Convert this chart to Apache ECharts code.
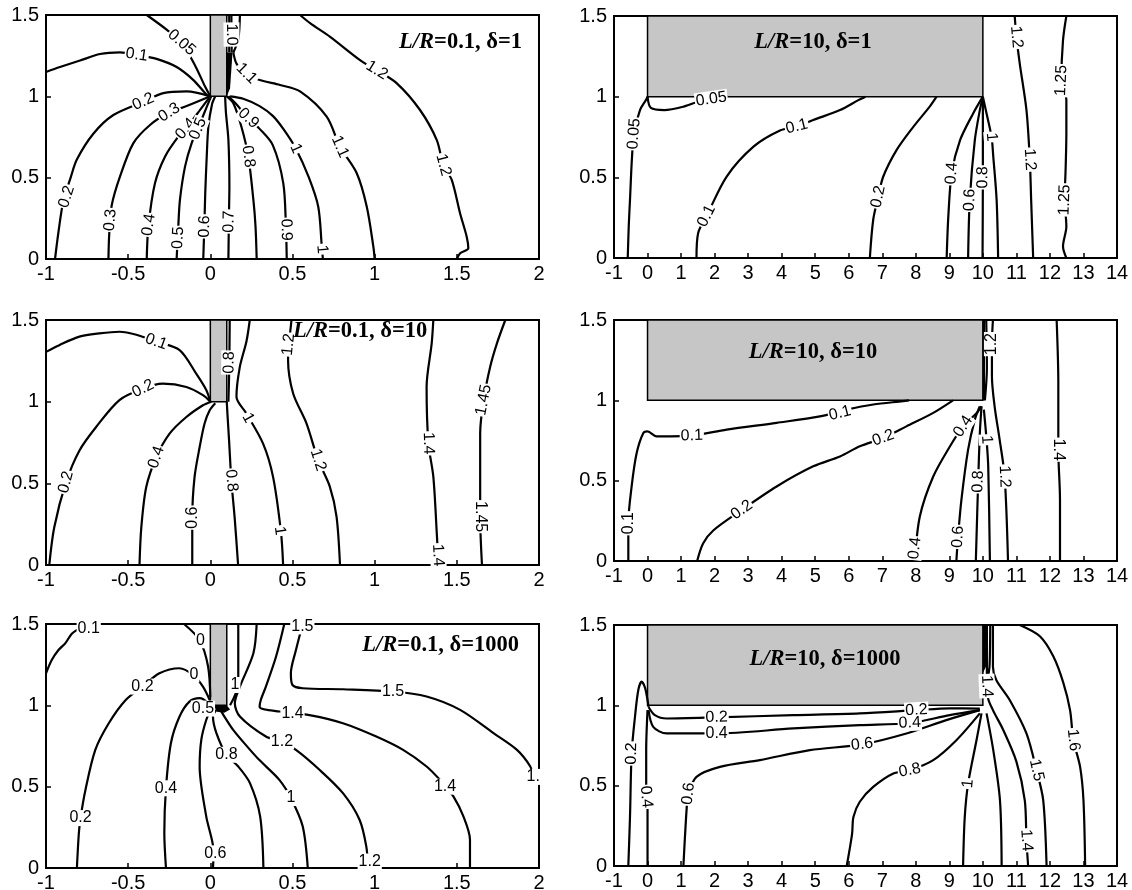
<!DOCTYPE html>
<html><head><meta charset="utf-8">
<script src="https://cdn.jsdelivr.net/npm/echarts/dist/echarts.min.js"></script>
<style>html,body{margin:0;padding:0;background:#fff}#c{width:1132px;height:890px}</style>
</head><body><div id="c"></div>
<script>
// ---------- DATA (data coordinates) ----------
const leftX = {min: -1, max: 2, interval: 0.5};
const rightX = {min: -1, max: 14, interval: 1};
const yRange = {min: 0, max: 1.5, interval: 0.5};
const leftBox = [0, 1, 0.1, 1.5];
const rightBox = [0, 1, 10, 1.5];

// Panel 1: L/R=0.1, delta=1
const tlLines = [
 [[-0.387,1.5],[-0.266,1.41],[-0.175,1.33],[-0.093,1.19],[-0.032,1.06],[0,1]],
 [[-1,1.15],[-0.915,1.18],[-0.793,1.22],[-0.671,1.26],[-0.55,1.27],[-0.448,1.255],[-0.327,1.23],[-0.205,1.18],[-0.103,1.1],[-0.022,1.01],[0,1]],
 [[-0.945,0],[-0.925,0.16],[-0.894,0.36],[-0.85,0.5],[-0.813,0.61],[-0.712,0.77],[-0.59,0.885],[-0.408,0.967],[-0.286,1.02],[-0.144,1.03],[0,1]],
 [[-0.62,0],[-0.615,0.158],[-0.6,0.33],[-0.55,0.506],[-0.469,0.711],[-0.367,0.824],[-0.25,0.9],[-0.144,0.94],[0,1]],
 [[-0.387,0],[-0.377,0.2],[-0.337,0.465],[-0.276,0.629],[-0.195,0.752],[-0.124,0.834],[-0.06,0.92],[0,1]],
 [[-0.205,0],[-0.195,0.2],[-0.185,0.363],[-0.154,0.568],[-0.114,0.711],[-0.063,0.834],[-0.02,0.94],[0.005,1]],
 [[-0.043,0],[-0.035,0.25],[-0.031,0.404],[-0.022,0.629],[-0.012,0.813],[0.01,0.95],[0.03,1]],
 [[0.11,0],[0.113,0.25],[0.116,0.445],[0.11,0.732],[0.095,0.9],[0.09,1]],
 [[0.282,0],[0.275,0.2],[0.262,0.363],[0.231,0.63],[0.19,0.81],[0.14,0.957],[0.1,1]],
 [[0.465,0],[0.46,0.2],[0.444,0.465],[0.38,0.7],[0.3,0.8],[0.231,0.865],[0.16,0.95],[0.11,1]],
 [[0.685,0],[0.678,0.08],[0.657,0.32],[0.6,0.5],[0.52,0.68],[0.444,0.8],[0.38,0.88],[0.3,0.94],[0.2,0.985],[0.12,1]],
 [[0.14,1.27],[0.16,1.2],[0.22,1.14],[0.3,1.1],[0.424,1.07],[0.546,1.03],[0.708,0.875],[0.789,0.69],[0.891,0.527],[0.952,0.321],[0.992,0.076],[1,0]],
 [[0.546,1.5],[0.607,1.45],[0.729,1.366],[0.911,1.223],[1.013,1.16],[1.135,1.08],[1.276,0.916],[1.378,0.731],[1.418,0.578],[1.469,0.486],[1.52,0.28],[1.56,0.137],[1.57,0.066],[1.52,0.035],[1.5,0]],
 [[0.115,1.5],[0.115,1.27]],
 [[0.128,1.5],[0.13,1.27]],
 [[0.18,1.5],[0.17,1.35],[0.14,1.27]]
];
const tlLabels = [[-0.175,1.33,'0.05'],[-0.448,1.255,'0.1'],[-0.408,0.967,'0.2'],[-0.874,0.383,'0.2'],[-0.25,0.9,'0.3'],[-0.608,0.24,'0.3'],[-0.15,0.8,'0.4'],[-0.375,0.21,'0.4'],[-0.075,0.8,'0.5'],[-0.196,0.13,'0.5'],[-0.035,0.2,'0.6'],[0.114,0.23,'0.7'],[0.231,0.63,'0.8'],[0.231,0.865,'0.9'],[0.461,0.18,'0.9'],[0.52,0.68,'1'],[0.68,0.06,'1'],[0.22,1.14,'1.1'],[0.789,0.69,'1.1'],[1.013,1.16,'1.2'],[1.418,0.578,'1.2'],[0.129,1.38,'1.0']];
const tlBlobs = [[[0.1,1.27],[0.135,1.27],[0.12,1.05],[0.1,1.0]]];

// Panel 2: L/R=10, delta=1
const trLines = [
 [[-0.59,0],[-0.56,0.2],[-0.523,0.36],[-0.47,0.6],[-0.404,0.77],[-0.225,0.917],[-0.046,0.98],[0,1]],
 [[0,1],[0.1,0.93],[0.5,0.917],[1.1,0.94],[1.6,0.975],[2.1,0.99],[2.4,1]],
 [[1.46,0],[1.51,0.155],[1.76,0.26],[2.36,0.505],[3.16,0.69],[3.95,0.79],[4.45,0.815],[4.94,0.855],[5.74,0.917],[6.3,0.98],[6.5,1]],
 [[6.63,0],[6.73,0.237],[6.88,0.38],[7.03,0.505],[7.43,0.67],[7.93,0.814],[8.42,0.94],[8.62,1]],
 [[8.92,0],[8.97,0.258],[9.07,0.525],[9.32,0.73],[9.71,0.896],[10,1]],
 [[9.56,0],[9.61,0.36],[9.76,0.73],[9.91,0.917],[10,1]],
 [[9.99,0],[10,0.5],[10,1]],
 [[10.455,0],[10.41,0.36],[10.31,0.63],[10.26,0.75],[10.11,0.896],[10,1]],
 [[10.95,1.5],[11.0,1.37],[11.1,1.205],[11.3,0.917],[11.4,0.61],[11.44,0.36],[11.5,0]],
 [[12.49,1.5],[12.39,1.35],[12.34,1.1],[12.49,0.98],[12.49,0.77],[12.47,0.567],[12.44,0.36],[12.49,0.195],[12.39,0.072],[12.49,0]]
];
const trLabels = [[-0.404,0.77,'0.05'],[1.9,0.985,'0.05'],[1.76,0.26,'0.1'],[4.45,0.815,'0.1'],[6.88,0.38,'0.2'],[9.07,0.525,'0.4'],[9.61,0.36,'0.6'],[10,0.5,'0.8'],[10.26,0.75,'1'],[11.0,1.37,'1.2'],[11.4,0.61,'1.2'],[12.34,1.1,'1.25'],[12.44,0.36,'1.25']];

// Panel 3: L/R=0.1, delta=10
const mlLines = [
 [[-1,1.305],[-0.919,1.346],[-0.797,1.398],[-0.675,1.418],[-0.553,1.428],[-0.45,1.41],[-0.33,1.367],[-0.187,1.316],[-0.085,1.17],[-0.024,1.07],[0,1]],
 [[-0.98,0],[-0.95,0.23],[-0.878,0.507],[-0.797,0.7],[-0.695,0.845],[-0.553,1.01],[-0.41,1.08],[-0.289,1.11],[-0.146,1.09],[-0.045,1.04],[0,1]],
 [[-0.431,0],[-0.42,0.23],[-0.39,0.477],[-0.329,0.66],[-0.248,0.804],[-0.146,0.906],[-0.045,0.978],[0.006,1]],
 [[-0.11,0],[-0.11,0.29],[-0.096,0.538],[-0.065,0.722],[-0.035,0.866],[-0.004,0.947],[0.03,0.99]],
 [[0.169,0],[0.148,0.29],[0.128,0.517],[0.114,0.763],[0.104,0.927],[0.1,1]],
 [[0.118,1.5],[0.115,1.2],[0.11,1.0]],
 [[0.443,0],[0.43,0.2],[0.382,0.538],[0.321,0.743],[0.22,0.927],[0.159,1.03],[0.179,1.21],[0.22,1.37],[0.24,1.5]],
 [[0.494,1.5],[0.474,1.3],[0.473,1.255],[0.504,1.05],[0.585,0.867],[0.656,0.643],[0.727,0.48],[0.768,0.296],[0.789,0]],
 [[1.357,1.5],[1.347,1.357],[1.316,1.09],[1.327,0.745],[1.357,0.541],[1.378,0.194],[1.388,0]],
 [[1.795,1.5],[1.744,1.357],[1.703,1.214],[1.663,1.01],[1.642,0.806],[1.642,0.561],[1.642,0.296],[1.653,0]]
];
const mlLabels = [[-0.33,1.367,'0.1'],[-0.41,1.08,'0.2'],[-0.878,0.507,'0.2'],[-0.329,0.66,'0.4'],[-0.11,0.29,'0.6'],[0.128,0.517,'0.8'],[0.115,1.24,'0.8'],[0.23,0.9,'1'],[0.423,0.21,'1'],[0.476,1.35,'1.2'],[0.656,0.643,'1.2'],[1.327,0.745,'1.4'],[1.386,0.06,'1.4'],[1.663,1.01,'1.45'],[1.642,0.296,'1.45']];

// Panel 4: L/R=10, delta=10
const mrLines = [
 [[-0.573,0],[-0.573,0.235],[-0.474,0.464],[-0.324,0.672],[-0.125,0.797],[0,0.807],[0.27,0.776],[0.67,0.776],[1.32,0.78],[2.36,0.818],[3.85,0.86],[5.14,0.9],[5.94,0.942],[6.73,0.974],[7.62,0.995],[7.8,1]],
 [[1.48,0],[1.66,0.11],[1.96,0.19],[2.81,0.318],[3.85,0.464],[4.94,0.589],[5.74,0.651],[6.33,0.714],[7.03,0.766],[7.72,0.838],[8.52,0.922],[9.11,1]],
 [[7.97,0],[8.12,0.277],[8.52,0.526],[9.02,0.714],[9.41,0.838],[9.81,0.92],[9.96,0.963]],
 [[9.21,0],[9.26,0.15],[9.36,0.38],[9.56,0.693],[9.76,0.88],[9.91,0.963]],
 [[9.79,0],[9.86,0.495],[9.91,0.797],[9.96,0.963]],
 [[10.21,0],[10.16,0.589],[10.11,0.755],[10.03,0.942]],
 [[10.75,0],[10.65,0.526],[10.5,0.755],[10.35,0.963],[10.27,1.15],[10.27,1.35],[10.3,1.5]],
 [[10.03,1.5],[10.03,1.0]],
 [[10.1,1.5],[10.12,1.2],[10.06,1.0]],
 [[12.2,1.5],[12.25,1.109],[12.25,0.693],[12.3,0.38],[12.3,0]]
];
const mrLabels = [[-0.573,0.235,'0.1'],[1.32,0.78,'0.1'],[5.74,0.92,'0.1'],[2.81,0.318,'0.2'],[7.03,0.766,'0.2'],[7.97,0.08,'0.4'],[9.41,0.838,'0.4'],[9.26,0.15,'0.6'],[9.86,0.495,'0.8'],[10.11,0.755,'1'],[10.65,0.526,'1.2'],[10.27,1.35,'1.2'],[12.25,0.693,'1.4']];

// Panel 5: L/R=0.1, delta=1000
const blLines = [
 [[-1,1.197],[-0.965,1.279],[-0.924,1.34],[-0.883,1.381],[-0.843,1.44],[-0.8,1.47],[-0.75,1.5]],
 [[-0.16,1.5],[-0.065,1.4],[-0.014,1.24],[0,1.05]],
 [[-0.812,0],[-0.8,0.215],[-0.79,0.307],[-0.76,0.48],[-0.7,0.726],[-0.618,0.89],[-0.515,1.033],[-0.413,1.115],[-0.31,1.197],[-0.188,1.228],[-0.106,1.187],[-0.045,1.115],[-0.004,1.033],[0.006,1]],
 [[-0.27,0],[-0.28,0.215],[-0.27,0.49],[-0.24,0.767],[-0.188,0.93],[-0.127,1.023],[-0.065,1.044],[-0.014,1.013],[0.01,0.97]],
 [[0.016,0],[0.02,0.1],[-0.025,0.317],[-0.065,0.624],[-0.055,0.788],[-0.025,0.91],[0.006,0.982]],
 [[0.323,0],[0.303,0.317],[0.241,0.522],[0.17,0.624],[0.098,0.696],[0.037,0.829],[0.016,0.931],[0.037,0.972]],
 [[0.593,0],[0.562,0.256],[0.49,0.43],[0.42,0.542],[0.297,0.665],[0.23,0.74],[0.139,0.849],[0.08,0.94],[0.06,0.975]],
 [[0.12,1.0],[0.17,1.136],[0.17,1.5]],
 [[0.96,0],[0.949,0.133],[0.908,0.297],[0.807,0.46],[0.664,0.604],[0.521,0.726],[0.43,0.778],[0.338,0.808],[0.18,0.931],[0.149,1.013],[0.18,1.115],[0.262,1.32],[0.282,1.5]],
 [[1.58,0],[1.58,0.174],[1.54,0.317],[1.479,0.44],[1.428,0.5],[1.397,0.542],[1.316,0.624],[1.173,0.726],[1.01,0.808],[0.807,0.89],[0.603,0.94],[0.42,0.962],[0.3,0.99],[0.307,1.033],[0.338,1.115],[0.4,1.3],[0.45,1.5]],
 [[0.562,1.5],[0.521,1.34],[0.49,1.197],[0.5,1.125],[0.562,1.105],[0.807,1.099],[1.112,1.085],[1.316,1.054],[1.52,0.972],[1.723,0.829],[1.866,0.726],[1.947,0.624],[1.967,0.56],[2,0.542]]
];
const blLabels = [[-0.74,1.47,'0.1'],[-0.413,1.115,'0.2'],[-0.79,0.307,'0.2'],[-0.27,0.49,'0.4'],[0.03,0.09,'0.6'],[0.098,0.696,'0.8'],[0.49,0.43,'1'],[0.436,0.778,'1.2'],[0.97,0.04,'1.2'],[0.5,0.95,'1.4'],[1.428,0.5,'1.4'],[1.112,1.085,'1.5'],[1.965,0.56,'1.'],[0.56,1.485,'1.5'],[-0.045,0.98,'0.5'],[-0.06,1.4,'0'],[-0.1,1.19,'0'],[0.15,1.125,'1']];
const blBlobs = [[[0.02,1.0],[0.1,1.0],[0.12,0.975],[0.085,0.955],[0.04,0.96]]];

// Panel 6: L/R=10, delta=1000
const brLines = [
 [[-0.573,0],[-0.523,0.305],[-0.474,0.7],[-0.374,0.929],[-0.275,1.095],[-0.175,1.147],[-0.076,1.11],[0,1.033],[0.03,0.99]],
 [[0.03,0.99],[0.22,0.939],[0.57,0.918],[2.06,0.925],[4.35,0.939],[6.33,0.95],[8.02,0.97],[9.01,0.981],[9.91,0.98]],
 [[0,0],[0,0.347],[-0.04,0.43],[-0.04,0.72],[0,0.97]],
 [[0.03,0.97],[0.17,0.866],[0.57,0.825],[2.06,0.825],[4.35,0.856],[6.33,0.877],[7.82,0.89],[9.01,0.939],[9.91,0.97]],
 [[1.07,0],[1.17,0.368],[1.22,0.45],[1.46,0.555],[2.16,0.617],[3.35,0.659],[4.84,0.721],[6.4,0.757],[7.72,0.825],[8.91,0.908],[9.91,0.97]],
 [[5.94,0],[6.1,0.2],[6.14,0.305],[6.33,0.4],[6.73,0.492],[7.33,0.576],[7.82,0.596],[8.52,0.659],[9.21,0.783],[9.91,0.95]],
 [[9.41,0],[9.46,0.305],[9.56,0.513],[9.81,0.783],[9.96,0.95]],
 [[10.56,0],[10.51,0.409],[10.31,0.721],[10.11,0.95]],
 [[11.35,0],[11.3,0.16],[11.25,0.409],[11.0,0.65],[10.6,0.85],[10.3,0.97],[10.15,1.05],[10.12,1.2],[10.12,1.5]],
 [[11.9,0],[11.8,0.409],[11.6,0.596],[11.3,0.825],[10.8,1.033],[10.4,1.158],[10.3,1.24],[10.3,1.5]],
 [[11.1,1.5],[11.7,1.43],[12.1,1.305],[12.4,1.14],[12.6,0.97],[12.7,0.784],[12.9,0.617],[13.0,0.409],[13.05,0]],
 [[10.22,1.5],[10.2,1.25],[10.15,1.17]]
];
const brLabels = [[-0.474,0.7,'0.2'],[2.06,0.925,'0.2'],[8.02,0.97,'0.2'],[-0.04,0.43,'0.4'],[2.06,0.825,'0.4'],[7.82,0.89,'0.4'],[1.22,0.45,'0.6'],[6.4,0.757,'0.6'],[7.82,0.596,'0.8'],[9.56,0.513,'1'],[11.3,0.16,'1.4'],[10.12,1.12,'1.4'],[11.6,0.596,'1.5'],[12.7,0.784,'1.6']];
const brBlobs = [[[10,1.5],[10.13,1.5],[10.11,1.25],[10,1.2]]];

const titles = [
 {lr:'0.1', d:'1'}, {lr:'10', d:'1'},
 {lr:'0.1', d:'10'}, {lr:'10', d:'10'},
 {lr:'0.1', d:'1000'}, {lr:'10', d:'1000'}
];

// ---------- LAYOUT / STYLE ----------
const GRIDS = [
 {left:46, top:15, width:493, height:244},
 {left:614, top:16, width:503, height:242},
 {left:46, top:320, width:493, height:245},
 {left:614, top:320, width:503, height:241},
 {left:46, top:624, width:493, height:244},
 {left:614, top:625, width:503, height:241}
];
const TITLE_POS = [
 {left:522, top:31, align:'right'},
 {left:813, top:31, align:'center'},
 {left:293, top:320, align:'left'},
 {left:813, top:341, align:'center'},
 {left:519, top:634, align:'right'},
 {left:825, top:648, align:'center'}
];
const panels = [
 {lines: tlLines, labels: tlLabels, blobs: tlBlobs, box: leftBox, x: leftX, rot: true},
 {lines: trLines, labels: trLabels, blobs: [], box: rightBox, x: rightX, rot: true},
 {lines: mlLines, labels: mlLabels, blobs: [], box: leftBox, x: leftX, rot: true},
 {lines: mrLines, labels: mrLabels, blobs: [], box: rightBox, x: rightX, rot: true},
 {lines: blLines, labels: blLabels, blobs: blBlobs, box: leftBox, x: leftX, rot: false},
 {lines: brLines, labels: brLabels, blobs: brBlobs, box: rightBox, x: rightX, rot: true}
];

function labelAngle(pt, lines, sx, sy) {
  let best = 1e18, ang = 0;
  const px = pt[0]*sx, py = pt[1]*sy;
  lines.forEach(line => {
    for (let i = 0; i < line.length - 1; i++) {
      const ax = line[i][0]*sx, ay = line[i][1]*sy, bx = line[i+1][0]*sx, by = line[i+1][1]*sy;
      const dx = bx-ax, dy = by-ay, L = dx*dx+dy*dy;
      let t = L ? ((px-ax)*dx + (py-ay)*dy)/L : 0;
      t = Math.max(0, Math.min(1, t));
      const qx = ax+t*dx-px, qy = ay+t*dy-py, d = qx*qx+qy*qy;
      if (d < best) { best = d; ang = Math.atan2(dy, dx)*180/Math.PI; }
    }
  });
  if (ang > 90) ang -= 180;
  if (ang < -90) ang += 180;
  return ang;
}

const FONT = "'Liberation Sans', Arial, sans-serif";
const SERIF = "'Liberation Serif', 'Times New Roman', serif";
const grid = [], xAxis = [], yAxis = [], series = [], title = [];

panels.forEach((p, i) => {
  grid.push(Object.assign({show:true, borderColor:'#000', borderWidth:2, backgroundColor:'transparent', containLabel:false, outerBoundsMode:'none'}, GRIDS[i]));
  xAxis.push({type:'value', gridIndex:i, min:p.x.min, max:p.x.max, interval:p.x.interval,
    axisLine:{show:true, onZero:false, lineStyle:{color:'#000', width:2}},
    axisTick:{show:true, inside:true, length:5, lineStyle:{color:'#000', width:1.5}},
    splitLine:{show:false},
    axisLabel:{color:'#000', fontSize:20, fontFamily:FONT, margin:5, hideOverlap:false}});
  yAxis.push({type:'value', gridIndex:i, min:yRange.min, max:yRange.max, interval:yRange.interval,
    axisLine:{show:true, onZero:false, lineStyle:{color:'#000', width:2}},
    axisTick:{show:true, inside:true, length:5, lineStyle:{color:'#000', width:1.5}},
    splitLine:{show:false},
    axisLabel:{color:'#000', fontSize:20, fontFamily:FONT, margin:7}});

  // body (rod / plate)
  series.push({type:'custom', xAxisIndex:i, yAxisIndex:i, silent:true, z:1, clip:true,
    data:[p.box], encode:{x:[0,2], y:[1,3]},
    renderItem:(params, api) => {
      const a = api.coord([api.value(0), api.value(1)]);
      const b = api.coord([api.value(2), api.value(3)]);
      return {type:'rect', shape:{x:Math.min(a[0],b[0]), y:Math.min(a[1],b[1]), width:Math.abs(b[0]-a[0]), height:Math.abs(b[1]-a[1])},
        style:{fill:'#c6c6c6', stroke:'#000', lineWidth:1.5}};
    }});
  // dense dark regions
  if (p.blobs.length) {
    const blobs = p.blobs;
    series.push({type:'custom', xAxisIndex:i, yAxisIndex:i, silent:true, z:4,
      data: blobs.map(b => b[0]),
      renderItem:(params, api) => ({type:'polygon', shape:{points: blobs[params.dataIndex].map(pt => api.coord(pt))}, style:{fill:'#000'}})
    });
  }
  // contour lines
  p.lines.forEach(line => {
    series.push({type:'line', xAxisIndex:i, yAxisIndex:i, data:line, showSymbol:false, symbol:'none',
      smooth:0.3, silent:true, z:3, animation:false, lineStyle:{color:'#000', width:2.2}});
  });
  // contour labels
  const g = GRIDS[i];
  const sx = g.width / (p.x.max - p.x.min), sy = g.height / (yRange.max - yRange.min);
  series.push({type:'scatter', xAxisIndex:i, yAxisIndex:i, symbolSize:0, silent:true, z:5, animation:false,
    itemStyle:{color:'#000', opacity:1},
    data: p.labels.map(l => ({value:[l[0], l[1]], name:l[2],
      label:{rotate: p.rot ? labelAngle(l, p.lines, sx, sy) : 0}})),
    label:{show:true, position:'inside', formatter:'{b}', color:'#000', opacity:1, fontSize:16, fontWeight:'normal', fontFamily:FONT,
      textBorderWidth:0, textShadowBlur:0, backgroundColor:'#fff', padding:[0,1]}
  });

  const tp = TITLE_POS[i];
  title.push({text:'{i|L/R}{n|=' + titles[i].lr + ', δ=' + titles[i].d + '}', left:tp.left, top:tp.top,
    textAlign:tp.align, padding:0, z:10,
    textStyle:{rich:{
      i:{fontFamily:SERIF, fontStyle:'italic', fontWeight:'bold', fontSize:22.5, color:'#000'},
      n:{fontFamily:SERIF, fontWeight:'bold', fontSize:22.5, color:'#000'}}}});
});

const chart = echarts.init(document.getElementById('c'), null, {renderer:'canvas'});
chart.setOption({animation:false, backgroundColor:'#fff', title, grid, xAxis, yAxis, series});
</script></body></html>
